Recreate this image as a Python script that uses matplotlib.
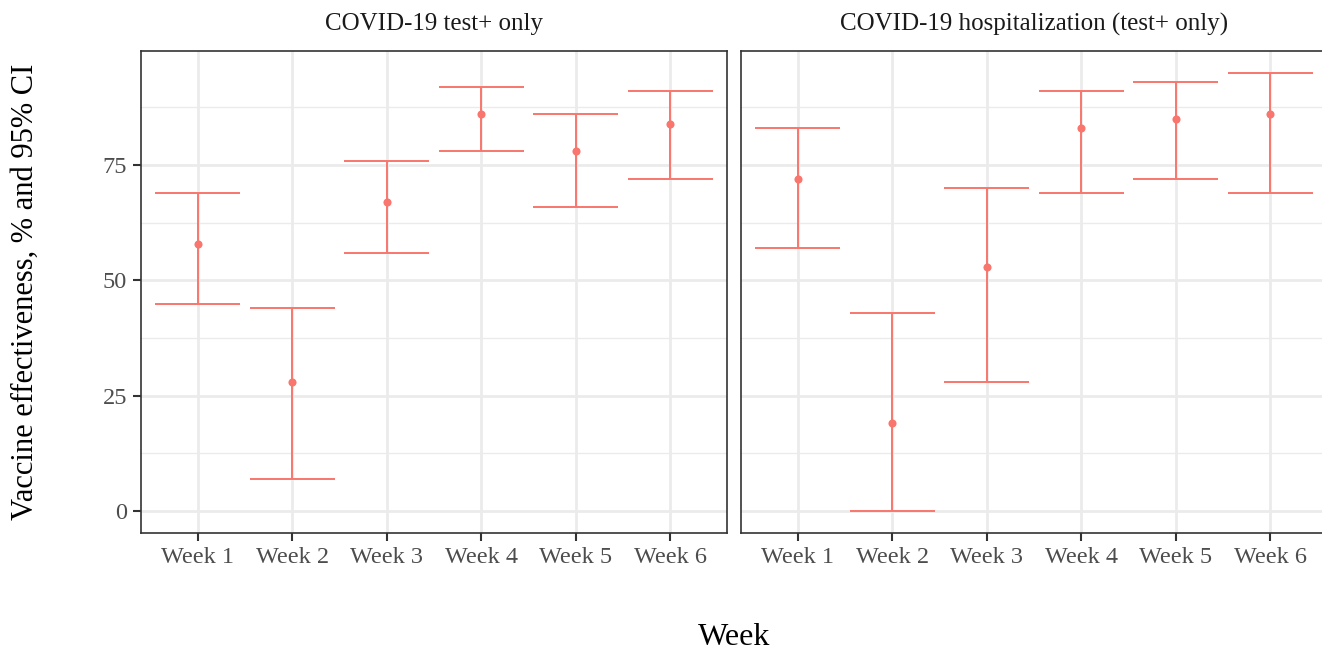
import matplotlib.pyplot as plt
from matplotlib.ticker import MultipleLocator

weeks = ["Week 1", "Week 2", "Week 3", "Week 4", "Week 5", "Week 6"]

# COVID-19 test+ only
test_ve = [58, 28, 67, 86, 78, 84]
test_lo = [45, 7, 56, 78, 66, 72]
test_hi = [69, 44, 76, 92, 86, 91]

# COVID-19 hospitalization (test+ only)
hosp_ve = [72, 19, 53, 83, 85, 86]
hosp_lo = [57, 0, 28, 69, 72, 69]
hosp_hi = [83, 43, 70, 91, 93, 95]

panels = [
    ("COVID-19 test+ only", test_ve, test_lo, test_hi),
    ("COVID-19 hospitalization (test+ only)", hosp_ve, hosp_lo, hosp_hi),
]

plt.rcParams['font.family'] = ['Liberation Serif', 'DejaVu Serif']

color = '#F8766D'
grid_col = '#EBEBEB'
frame_col = '#333333'
tick_col = '#4D4D4D'

fig = plt.figure(figsize=(13.22, 6.53), dpi=100)
lefts = [0.1067, 0.5605]
axes = []
for i, (title, ve, lo, hi) in enumerate(panels):
    ax = fig.add_axes([lefts[i], 0.1838, 0.4433, 0.7381])
    axes.append(ax)
    x = list(range(len(weeks)))
    ax.vlines(x, lo, hi, color=color, lw=1.4, zorder=3)
    ax.hlines(lo, [v - 0.45 for v in x], [v + 0.45 for v in x], color=color, lw=1.4, zorder=3)
    ax.hlines(hi, [v - 0.45 for v in x], [v + 0.45 for v in x], color=color, lw=1.4, zorder=3)
    ax.scatter(x, ve, s=34, color=color, zorder=4, linewidths=0)

    ax.set_xlim(-0.6, 5.6)
    ax.set_ylim(-4.75, 99.75)
    ax.set_xticks(x)
    ax.set_xticklabels(weeks)
    ax.yaxis.set_major_locator(MultipleLocator(25))
    ax.yaxis.set_minor_locator(MultipleLocator(12.5))
    ax.grid(which='major', color=grid_col, lw=2.0)
    ax.grid(which='minor', axis='y', color=grid_col, lw=1.0)
    ax.set_axisbelow(True)
    ax.tick_params(which='minor', length=0)
    ax.tick_params(which='major', length=6, width=1.5, color=frame_col,
                   labelcolor=tick_col, labelsize=17.5, pad=4)
    for sp in ax.spines.values():
        sp.set_color(frame_col)
        sp.set_linewidth(1.2)
    ax.set_title(title, fontsize=18, pad=15, color='#1A1A1A')

axes[1].tick_params(axis='y', left=False, labelleft=False)
fig.text(0.019, 0.553, "Vaccine effectiveness, % and 95% CI", rotation=90,
         ha='center', va='center', fontsize=22)
fig.text(0.555, 0.0245, "Week", ha='center', va='center', fontsize=23)

fig.savefig("out.png", dpi=100)
